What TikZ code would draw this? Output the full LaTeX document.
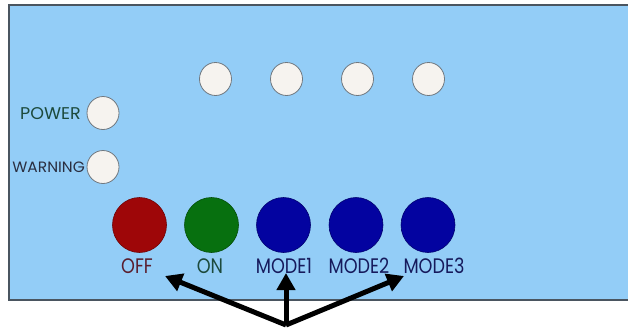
\documentclass[tikz,border=0pt]{standalone}
\usepackage{fontspec}
\newfontfamily\lblsidefont[FakeStretch=1.03]{Poppins}
\newfontfamily\lblbotfont[FakeStretch=0.84]{Poppins}
\usetikzlibrary{arrows.meta,shapes.geometric}
\definecolor{panelbg}{HTML}{93CDF7}
\definecolor{panelborder}{HTML}{4A5560}
\definecolor{ledfill}{HTML}{F6F3EF}
\definecolor{ledline}{HTML}{707880}
\definecolor{offred}{HTML}{9E0608}
\definecolor{ongreen}{HTML}{07700F}
\definecolor{modeblue}{HTML}{0303A0}
\definecolor{txtgreen}{HTML}{1C4A3C}
\definecolor{txtdark}{HTML}{2A2E40}
\definecolor{txtred}{HTML}{5A1E2E}
\definecolor{txtnavy}{HTML}{161A5C}
\tikzset{
  led/.style={ellipse, draw=ledline, line width=0.8pt, fill=ledfill, minimum width=32pt, minimum height=33pt, inner sep=0pt},
  button/.style={ellipse, draw=#1!70!black, line width=0.6pt, fill=#1, minimum width=54pt, minimum height=55pt, inner sep=0pt},
  sidelbl/.style={font=\lblsidefont\fontsize{#1}{#1}\selectfont, inner sep=0pt, anchor=east},
  botlbl/.style={font=\lblbotfont\fontsize{21}{21}\selectfont, inner sep=0pt, text=#1},
  bigarrow/.style={line width=5pt, -{Triangle[length=17pt,width=18pt]}}
}
\begin{document}
\begin{tikzpicture}[x=1pt,y=-1pt]
\useasboundingbox (0,0) rectangle (628,327);
\fill[white] (0,0) rectangle (628,327);
\draw[panelborder, line width=1.2pt, fill=panelbg] (9,5) -- (640,5) -- (640,300) -- (9,300) -- cycle;
% top LEDs
\node[led] (l1) at (215.5,79) {};
\node[led] (l2) at (286.5,79) {};
\node[led] (l3) at (357.5,79) {};
\node[led] (l4) at (428.5,79) {};
% power / warning
\node[led] (pw) at (103,113) {};
\node[led] (wn) at (103,167) {};
\node[sidelbl=17, text=txtgreen] (pwt) at (81,113.5) {POWER};
\node[sidelbl=15, text=txtdark] (wnt) at (85,167.5) {WARNING};
% buttons
\node[button=offred] (boff) at (139.5,225) {};
\node[button=ongreen] (bon) at (211.5,225) {};
\node[button=modeblue] (bm1) at (283.5,225) {};
\node[button=modeblue] (bm2) at (356,225) {};
\node[button=modeblue] (bm3) at (428,225) {};
% labels
\node[botlbl=txtred] (toff) at (137,266) {OFF};
\node[botlbl=txtgreen] (ton) at (210,266) {ON};
\node[botlbl=txtnavy] (tm1) at (284,266) {MODE1};
\node[botlbl=txtnavy] (tm2) at (359,266) {MODE2};
\node[botlbl=txtnavy] (tm3) at (434,266) {MODE3};
% arrows
\coordinate (src) at (286,325);
\coordinate (aoff) at (165,276);
\coordinate (am1) at (286,273);
\coordinate (am3) at (404,276);
\draw[bigarrow] (src) -- (aoff);
\draw[bigarrow] (src) -- (am1);
\draw[bigarrow] (src) -- (am3);
\end{tikzpicture}
\end{document}
